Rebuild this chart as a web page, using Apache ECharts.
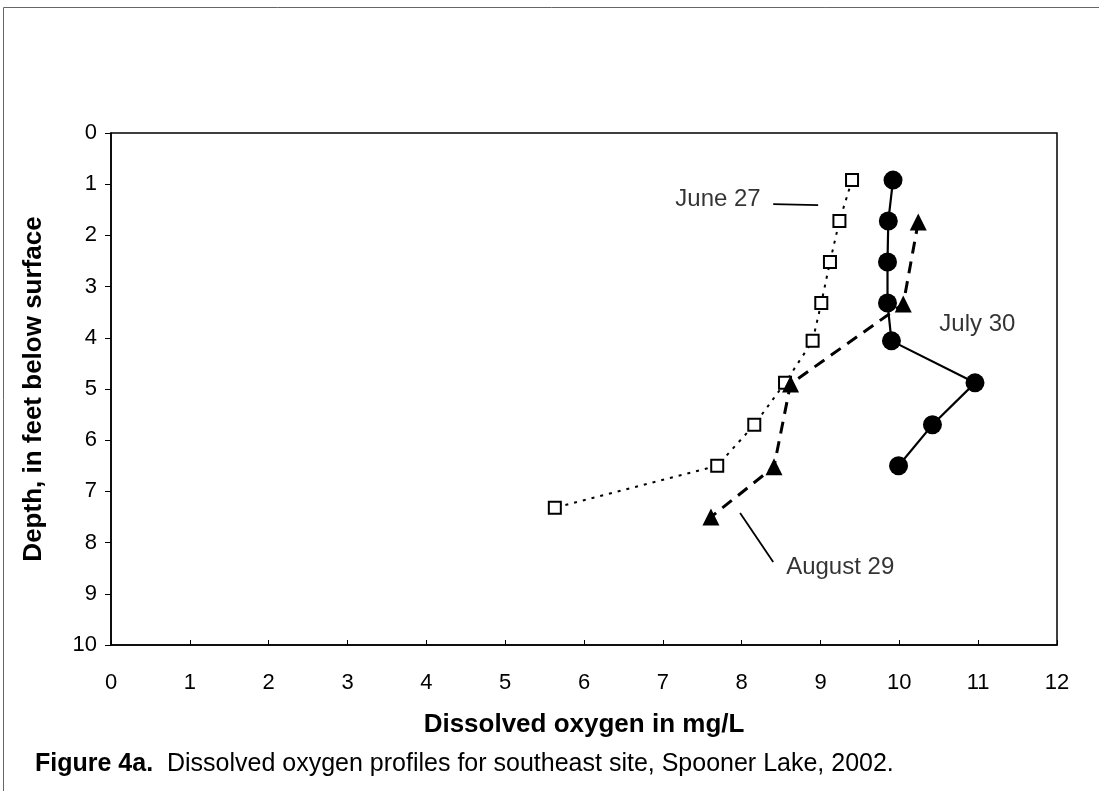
<!DOCTYPE html>
<html>
<head>
<meta charset="utf-8">
<script src="https://cdn.jsdelivr.net/npm/echarts@6/dist/echarts.min.js"></script>
<style>
  html, body { margin: 0; padding: 0; background: #fff; }
  #chart { width: 1099px; height: 791px; }
</style>
</head>
<body>
<div id="chart"></div>
<script>
// depth (ft) and dissolved oxygen (mg/L)
var juneDepth = [0.92, 1.72, 2.52, 3.32, 4.06, 4.88, 5.70, 6.50, 7.32]
var juneDO = [9.40, 9.24, 9.12, 9.01, 8.90, 8.55, 8.16, 7.69, 5.63]

var julyDepth = [0.92, 1.72, 2.52, 3.32, 4.06, 4.88, 5.70, 6.50]
var julyDO = [9.92, 9.86, 9.85, 9.85, 9.90, 10.96, 10.42, 9.99]

var augDepth = [1.74, 3.34, 4.90, 6.52, 7.50]
var augDO = [10.24, 10.05, 8.62, 8.41, 7.61]

var xTicks = [0, 1, 2, 3, 4, 5, 6, 7, 8, 9, 10, 11, 12]
var yTicks = [0, 1, 2, 3, 4, 5, 6, 7, 8, 9, 10]

// text labels and their leader lines, in data units [DO, depth]
var labelNames = ['June 27', 'July 30', 'August 29']
var labelPos = [[7.70, 1.29], [10.99, 3.73], [9.25, 8.48]]
var juneLeader = [[8.40, 1.39], [8.97, 1.41]]
var augLeader = [[7.98, 7.42], [8.40, 8.38]]

function pairs(xs, ys) {
  return xs.map(function (x, i) { return [x, ys[i]] })
}

var font = '"Liberation Sans", Arial, sans-serif'

var chart = echarts.init(document.getElementById('chart'))

var option = {
  animation: false,
  backgroundColor: '#fff',
  textStyle: { fontFamily: font, color: '#000' },
  title: {
    left: 30,
    top: 747,
    text: '{b|Figure 4a.}  Dissolved oxygen profiles for southeast site, Spooner Lake, 2002.',
    textStyle: {
      fontFamily: font,
      fontWeight: 'normal',
      fontSize: 25,
      color: '#000',
      rich: {
        b: { fontFamily: font, fontWeight: 'bold', fontSize: 25, color: '#000' }
      }
    }
  },
  graphic: [
    {
      // page frame
      type: 'rect',
      shape: { x: 3.5, y: 7.5, width: 1200, height: 900 },
      style: { fill: 'none', stroke: '#666', lineWidth: 1 },
      silent: true,
      z: -1
    }
  ],
  grid: {
    left: 111,
    right: 42,
    top: 133,
    bottom: 146,
    show: true,
    borderColor: '#000',
    borderWidth: 1.5,
    backgroundColor: 'transparent'
  },
  xAxis: {
    type: 'value',
    min: 0,
    max: 12,
    interval: 1,
    name: 'Dissolved oxygen in mg/L',
    nameLocation: 'middle',
    nameGap: 67,
    nameTextStyle: { fontFamily: font, fontWeight: 'bold', fontSize: 26, color: '#000' },
    axisLine: { show: true, onZero: false, lineStyle: { color: '#000', width: 1.5 } },
    axisTick: { show: true, inside: true, length: 5, lineStyle: { color: '#000' } },
    axisLabel: {
      fontFamily: font, fontSize: 22, color: '#000', margin: 27,
      formatter: function (v) { return xTicks.indexOf(v) >= 0 ? String(v) : '' }
    },
    splitLine: { show: false }
  },
  yAxis: {
    type: 'value',
    inverse: true,
    min: 0,
    max: 10,
    interval: 1,
    name: 'Depth, in feet below surface',
    nameLocation: 'middle',
    nameGap: 64,
    nameRotate: 90,
    nameTextStyle: { fontFamily: font, fontWeight: 'bold', fontSize: 26, color: '#000' },
    axisLine: { show: true, onZero: false, lineStyle: { color: '#000', width: 1.5 } },
    axisTick: { show: true, inside: false, length: 6, lineStyle: { color: '#000' } },
    axisLabel: {
      fontFamily: font, fontSize: 22, color: '#000', margin: 14,
      formatter: function (v) { return yTicks.indexOf(v) >= 0 ? String(v) : '' }
    },
    splitLine: { show: false }
  },
  series: [
    {
      name: 'June 27',
      type: 'line',
      data: pairs(juneDO, juneDepth),
      symbol: 'rect',
      symbolSize: 12,
      showAllSymbol: true,
      lineStyle: { color: '#000', width: 2, type: [3, 6] },
      itemStyle: { color: '#fff', borderColor: '#000', borderWidth: 2 },
      z: 3
    },
    {
      name: 'July 30',
      type: 'line',
      data: pairs(julyDO, julyDepth),
      symbol: 'circle',
      symbolSize: 19,
      lineStyle: { color: '#000', width: 2.2 },
      itemStyle: { color: '#000' },
      z: 4
    },
    {
      name: 'August 29',
      type: 'line',
      data: pairs(augDO, augDepth),
      symbol: 'triangle',
      symbolSize: 17,
      lineStyle: { color: '#000', width: 3, type: [12, 8] },
      itemStyle: { color: '#000' },
      z: 5
    },
    {
      name: 'june-leader',
      type: 'line',
      data: juneLeader,
      symbol: 'none',
      lineStyle: { color: '#000', width: 1.8 },
      silent: true
    },
    {
      name: 'aug-leader',
      type: 'line',
      data: augLeader,
      symbol: 'none',
      lineStyle: { color: '#000', width: 1.8 },
      silent: true
    },
    {
      name: 'labels',
      type: 'scatter',
      symbol: 'circle',
      symbolSize: 1,
      silent: true,
      itemStyle: { color: 'rgba(0,0,0,0)' },
      data: labelPos.map(function (p, i) { return { value: p, name: labelNames[i] } }),
      label: {
        show: true,
        position: 'inside',
        formatter: '{b}',
        fontFamily: font,
        fontSize: 24,
        color: '#000'
      },
      z: 6
    }
  ]
}

chart.setOption(option)
</script>
</body>
</html>
